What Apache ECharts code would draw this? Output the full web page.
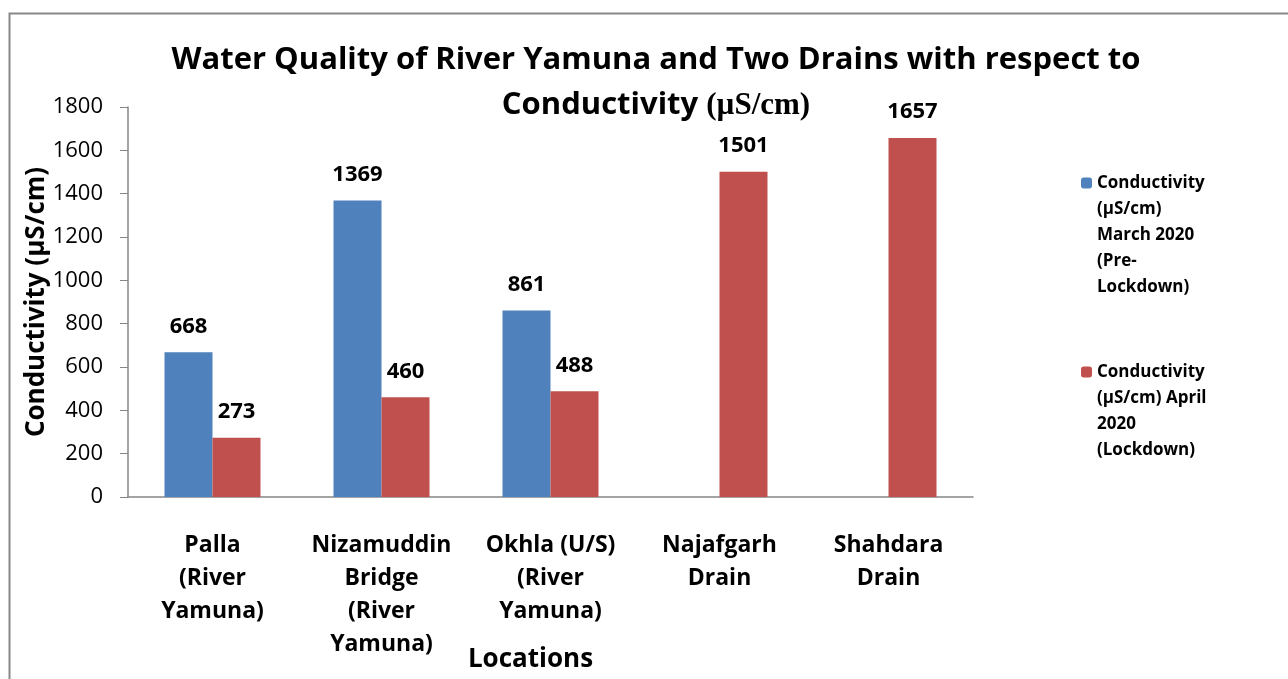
<!DOCTYPE html>
<html>
<head>
<meta charset="utf-8">
<script src="https://cdn.jsdelivr.net/npm/echarts@6/dist/echarts.min.js"></script>
<style>
  html, body { margin: 0; padding: 0; background: #fff; }
  #main { width: 1288px; height: 679px; }
</style>
</head>
<body>
<div id="main"></div>
<script>
var myChart = echarts.init(document.getElementById('main'));

// locations (x axis categories)
var locations = [
    'Palla\n(River\nYamuna)',
    'Nizamuddin\nBridge\n(River\nYamuna)',
    'Okhla (U/S)\n(River\nYamuna)',
    'Najafgarh\nDrain',
    'Shahdara\nDrain'
];
// conductivity values, µS/cm
var marchValues = [668, 1369, 861, null, null];   // pre-lockdown, drains not measured
var aprilValues = [273, 460, 488, 1501, 1657];

var marchName = 'Conductivity (µS/cm) March 2020 (Pre-Lockdown)';
var aprilName = 'Conductivity (µS/cm) April 2020 (Lockdown)';
// blank lines in front so the icon sits beside the first line
var legendText = {};
legendText[marchName] = '\n\n\n\nConductivity\n(µS/cm)\nMarch 2020\n(Pre-\nLockdown)';
legendText[aprilName] = '\n\n\nConductivity\n(µS/cm) April\n2020\n(Lockdown)';

var yTicks = { min: 0, max: 1800, interval: 200 };

var font = 'Open Sans';

var labelStyle = {
    show: true,
    position: 'top',
    distance: 15,
    fontFamily: font,
    fontWeight: 'bold',
    fontSize: 22,
    color: '#000'
};

var legendTextStyle = { fontFamily: font, fontWeight: 'bold', fontSize: 17, lineHeight: 26, color: '#000' };

option = {
    backgroundColor: '#fff',
    animation: false,
    title: {
        text: '{a|Water Quality of River Yamuna and Two Drains with respect to}\n{a|Conductivity }{b|(µS/cm)}',
        left: 651,
        top: 33,
        textAlign: 'center',
        textStyle: {
            rich: {
                a: { fontFamily: font, fontWeight: 'bold', fontSize: 31, color: '#000', lineHeight: 45 },
                b: { fontFamily: 'Liberation Serif', fontWeight: 'bold', fontSize: 31, color: '#000', lineHeight: 45 }
            }
        }
    },
    legend: [{
        orient: 'vertical',
        left: 1081,
        top: 66,
        padding: 0,
        itemWidth: 11,
        itemHeight: 11,
        data: [marchName],
        formatter: function (name) { return legendText[name]; },
        textStyle: legendTextStyle
    }, {
        orient: 'vertical',
        left: 1081,
        top: 281,
        padding: 0,
        itemWidth: 11,
        itemHeight: 11,
        data: [aprilName],
        formatter: function (name) { return legendText[name]; },
        textStyle: legendTextStyle
    }],
    grid: {
        left: 128,
        right: 315,
        top: 107,
        bottom: 182,
        outerBoundsMode: 'none',
        containLabel: false
    },
    xAxis: {
        type: 'category',
        data: locations,
        name: 'Locations',
        nameLocation: 'middle',
        nameGap: 150,
        nameMoveOverlap: false,
        nameTextStyle: { fontFamily: font, fontWeight: 'bold', fontSize: 26, color: '#000', padding: [0, 40, 0, 0] },
        axisLine: { lineStyle: { color: '#868686', width: 1.5 } },
        axisTick: { show: false },
        axisLabel: {
            margin: 32,
            fontFamily: font,
            fontWeight: 'bold',
            fontSize: 23,
            lineHeight: 33,
            color: '#000',
            interval: 0
        }
    },
    yAxis: {
        type: 'value',
        min: yTicks.min,
        max: yTicks.max,
        interval: yTicks.interval,
        name: 'Conductivity (µS/cm)',
        nameLocation: 'middle',
        nameGap: 78,
        nameRotate: 90,
        nameMoveOverlap: false,
        nameTextStyle: { fontFamily: font, fontWeight: 'bold', fontSize: 26, color: '#000' },
        axisLine: { show: true, lineStyle: { color: '#868686', width: 1.5 } },
        axisTick: { show: true, length: 8, lineStyle: { color: '#868686' } },
        splitLine: { show: false },
        axisLabel: {
            margin: 25,
            fontFamily: font,
            fontSize: 22,
            color: '#000',
            formatter: function (v) { return String(v); }
        }
    },
    series: [{
        name: marchName,
        type: 'bar',
        data: marchValues,
        barWidth: 48,
        barGap: '0%',
        itemStyle: { color: '#4F81BD' },
        label: labelStyle
    }, {
        name: aprilName,
        type: 'bar',
        data: aprilValues,
        barWidth: 48,
        barGap: '0%',
        itemStyle: { color: '#C0504D' },
        label: labelStyle
    }],
    graphic: [{
        type: 'polyline',
        silent: true,
        shape: { points: [[9.5, 679], [9.5, 13.5], [1288, 13.5]] },
        style: { stroke: '#888', lineWidth: 2, fill: null }
    }]
};

myChart.setOption(option);
</script>
</body>
</html>
